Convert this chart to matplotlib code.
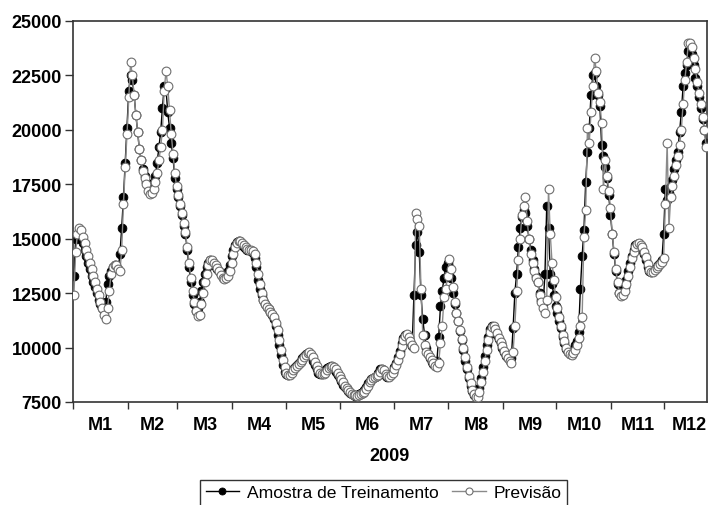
import matplotlib
matplotlib.use("Agg")
import matplotlib.pyplot as plt
from matplotlib.ticker import FixedLocator, NullFormatter, FixedFormatter

plt.rcParams['font.family'] = ['Liberation Sans', 'DejaVu Sans']

# ---------------- data (daily, 2009-01-01 .. 2009-12-24) ----------------
month_labels = ["M1", "M2", "M3", "M4", "M5", "M6", "M7", "M8", "M9", "M10", "M11", "M12"]
month_lengths = [31, 28, 31, 30, 31, 30, 31, 31, 30, 31, 30, 31]
year_label = "2009"
series_names = ["Amostra de Treinamento", "Previsão"]
y_ticks = [7500, 10000, 12500, 15000, 17500, 20000, 22500, 25000]

amostra = [
    # Jan
    13300, 15000, 15100, 15200, 15000, 14800, 14500, 14200, 13900, 13600,
    13300, 13000, 12800, 12500, 12200, 12000, 11800, 11700, 12100, 12900,
    13300, 13500, 13700, 13800, 13700, 13600, 14300, 15500, 16900, 18500,
    20100,
    # Feb
    21800, 22500, 22300, 21600, 20700, 19900, 19100, 18600, 18200, 17900,
    17600, 17400, 17300, 17400, 17600, 17900, 18500, 19200, 19900, 21000,
    22000, 21900, 20800, 20100, 19400, 18700, 17800, 17300,
    # Mar
    16900, 16500, 16100, 15600, 15200, 14500, 13700, 13000, 12400, 12000,
    11700, 11800, 12100, 12600, 13000, 13400, 13700, 13900, 14000, 13900,
    13800, 13700, 13600, 13500, 13400, 13300, 13300, 13400, 13500, 13800,
    14200,
    # Apr
    14500, 14700, 14850, 14900, 14850, 14700, 14600, 14550, 14500, 14500,
    14450, 14350, 14100, 13700, 13100, 12700, 12400, 12200, 12000, 11850,
    11750, 11650, 11500, 11300, 11000, 10600, 10100, 9650, 9200, 8900,
    # May
    8800, 8750, 8800, 8900, 9000, 9100, 9200, 9300, 9400, 9500,
    9600, 9700, 9750, 9700, 9600, 9400, 9200, 9000, 8850, 8800,
    8800, 8850, 8950, 9050, 9100, 9150, 9100, 9000, 8900, 8750,
    8600,
    # Jun
    8450, 8300, 8200, 8100, 8000, 7900, 7850, 7800, 7780, 7800,
    7850, 7900, 7950, 8050, 8200, 8350, 8450, 8550, 8600, 8650,
    8700, 8850, 9000, 9000, 8850, 8700, 8650, 8700, 8800, 8900,
    # Jul
    9100, 9300, 9550, 9850, 10200, 10450, 10600, 10550, 10400, 10250,
    10050, 12400, 14700, 15300, 14400, 12400, 11300, 10600, 10000, 9700,
    9500, 9350, 9250, 9200, 9400, 10500, 11900, 12600, 13200, 13700,
    13900,
    # Aug
    13700, 13200, 12500, 12000, 11600, 11200, 10750, 10350, 9900, 9400,
    9000, 8600, 8250, 8000, 7800, 7750, 7850, 8150, 8600, 9100,
    9600, 10100, 10500, 10850, 11000, 10900, 10750, 10600, 10400, 10200,
    10000,
    # Sep
    9800, 9600, 9500, 9450, 9500, 10900, 12500, 13400, 14600, 15500,
    16000, 16300, 16200, 15600, 15000, 14500, 14000, 13600, 13300, 13000,
    12500, 12200, 12000, 13400, 16500, 15500, 13400, 12900, 12400, 11900,
    # Oct
    11600, 11200, 10900, 10500, 10200, 9950, 9800, 9700, 9750, 9900,
    10100, 10300, 10700, 12700, 14200, 15400, 17600, 19000, 20100, 21600,
    22500, 22600, 22000, 21600, 21100, 19300, 18800, 18300, 17800, 17000,
    16100,
    # Nov
    15200, 14300, 13500, 12900, 12500, 12400, 12500, 12800, 13100, 13500,
    13900, 14200, 14500, 14700, 14750, 14700, 14600, 14500, 14300, 14000,
    13700, 13500, 13450, 13500, 13600, 13700, 13800, 13900, 14000, 15200,
    # Dec
    17300, 16800, 17100, 17400, 17700, 18200, 18600, 19000, 19900, 20800,
    22000, 22600, 23000, 23600, 23800, 23500, 23000, 22400, 22000, 21500,
    21000, 20500, 20000, 19400,
]

previsao = [
    # Jan
    12400, 14400, 15200, 15500, 15400, 15100, 14800, 14500, 14200, 13900,
    13600, 13300, 13000, 12700, 12400, 12100, 11800, 11500, 11300, 11800,
    12600, 13400, 13700, 13800, 13800, 13600, 13500, 14500, 16600, 18300,
    19800,
    # Feb
    21500, 23100, 22500, 21600, 20700, 19900, 19100, 18600, 18100, 17800,
    17500, 17200, 17050, 17100, 17300, 17600, 18000, 18600, 19200, 20000,
    21800, 22700, 22000, 20900, 19800, 18900, 18000, 17400,
    # Mar
    17000, 16600, 16200, 15700, 15300, 14600, 13900, 13200, 12600, 12100,
    11700, 11450, 11500, 12000, 12500, 13000, 13400, 13800, 14000, 14000,
    13900, 13800, 13650, 13500, 13350, 13200, 13150, 13200, 13300, 13500,
    13900,
    # Apr
    14300, 14600, 14800, 14900, 14900, 14800, 14700, 14600, 14550, 14500,
    14500, 14450, 14300, 13900, 13400, 12900, 12500, 12200, 12000, 11850,
    11750, 11650, 11550, 11400, 11150, 10800, 10350, 9900, 9450, 9100,
    # May
    8850, 8750, 8750, 8850, 8950, 9050, 9150, 9250, 9350, 9450,
    9550, 9650, 9750, 9780, 9700, 9550, 9350, 9150, 8950, 8850,
    8800, 8800, 8850, 8950, 9050, 9100, 9150, 9100, 9000, 8850,
    8700,
    # Jun
    8550, 8400, 8250, 8150, 8050, 7950, 7880, 7820, 7800, 7780,
    7800, 7850, 7900, 7980, 8100, 8250, 8400, 8500, 8580, 8650,
    8680, 8750, 8900, 9000, 8950, 8800, 8700, 8650, 8750, 8850,
    # Jul
    9000, 9200, 9450, 9700, 10050, 10350, 10550, 10620, 10500, 10300,
    10100, 10000, 16200, 15900, 15600, 12700, 10600, 10100, 9800, 9700,
    9550, 9450, 9300, 9150, 9100, 9300, 10200, 11000, 12300, 12700,
    13300,
    # Aug
    14050, 13600, 12800, 12100, 11600, 11200, 10800, 10400, 10000, 9550,
    9100, 8700, 8350, 8050, 7850, 7720, 7750, 7950, 8400, 8900,
    9400, 9900, 10350, 10700, 10950, 11000, 10850, 10650, 10450, 10250,
    10050,
    # Sep
    9850, 9650, 9500, 9400, 9300, 9800, 11000, 12600, 14000, 15000,
    16100, 16500, 16900, 15800, 15000, 14300, 13900, 13500, 13200, 13000,
    12400, 12100, 11800, 11600, 12200, 17300, 15200, 13900, 13100, 12300,
    # Oct
    11800, 11400, 11000, 10600, 10300, 10000, 9800, 9700, 9650, 9750,
    9900, 10100, 10450, 11000, 11400, 15100, 16300, 20100, 19400, 20800,
    22000, 23300, 22700, 21700, 21300, 20300, 17300, 18600, 17900, 17200,
    16400,
    # Nov
    15200, 14400, 13600, 13000, 12500, 12350, 12400, 12600, 12900, 13300,
    13700, 14100, 14400, 14600, 14750, 14800, 14700, 14600, 14400, 14150,
    13850, 13550, 13450, 13450, 13550, 13650, 13750, 13850, 13950, 14100,
    # Dec
    16600, 19400, 15500, 16900, 17400, 17900, 18400, 18800, 19300, 20000,
    21200, 22300, 23100, 24000, 24000, 23800, 23300, 22800, 22200, 21700,
    21200, 20600, 20000, 19200,
]

# ---------------- figure ----------------
W, H = 708, 506
fig = plt.figure(figsize=(W / 100, H / 100), dpi=100)
ax = fig.add_axes([73 / W, 1 - 403 / H, 634 / W, 381 / H])

days = list(range(len(amostra)))

ax.plot(days, amostra, color='black', lw=1.0, marker='o', markersize=6.3,
        markerfacecolor='black', markeredgecolor='black', markeredgewidth=0.6,
        label=series_names[0], zorder=2)
ax.plot(days, previsao, color='#8a8a8a', lw=1.0, marker='o', markersize=6.3,
        markerfacecolor='white', markeredgecolor='#6e6e6e', markeredgewidth=0.8,
        label=series_names[1], zorder=3)

n = len(amostra)
ax.set_xlim(-0.5, n - 0.5)
ax.set_ylim(y_ticks[0], y_ticks[-1])

# month boundaries as major ticks, month names as minor (centred) labels
starts = []
s = 0
for L in month_lengths:
    starts.append(s)
    s += L
boundaries = [st - 0.5 for st in starts if st - 0.5 < n - 0.5]
centres = []
for st, L in zip(starts, month_lengths):
    c = st + L / 2 - 0.5
    centres.append(min(c, n - 0.5 - 10))

ax.xaxis.set_major_locator(FixedLocator(boundaries))
ax.xaxis.set_major_formatter(NullFormatter())
ax.xaxis.set_minor_locator(FixedLocator(centres))
ax.xaxis.set_minor_formatter(FixedFormatter(month_labels))
ax.tick_params(axis='x', which='major', direction='out', length=5, width=1.0,
               color='#333333')
ax.tick_params(axis='x', which='minor', length=0, pad=10, labelsize=13)
for lab in ax.xaxis.get_minorticklabels():
    lab.set_fontweight('bold')

ax.set_yticks(y_ticks)
ax.set_yticklabels([str(v) for v in y_ticks], fontweight='bold')
ax.tick_params(axis='y', direction='out', length=6, width=1.0, pad=2,
               labelsize=13, color='#333333')

for sp in ax.spines.values():
    sp.set_color('#333333')
    sp.set_linewidth(1.2)

ax.set_xlabel(year_label, fontsize=13, fontweight='bold', labelpad=10)

leg = fig.legend(loc='upper center', bbox_to_anchor=(383.5 / W, 1 - 481 / H),
                 bbox_transform=fig.transFigure, ncol=2, fontsize=12.6,
                 frameon=True, fancybox=False, edgecolor='black',
                 borderpad=0.3, borderaxespad=0.0, handlelength=1.9,
                 handletextpad=0.45, columnspacing=0.8, markerscale=0.8)
leg.get_frame().set_linewidth(1.0)

fig.savefig("out.png", dpi=100)
